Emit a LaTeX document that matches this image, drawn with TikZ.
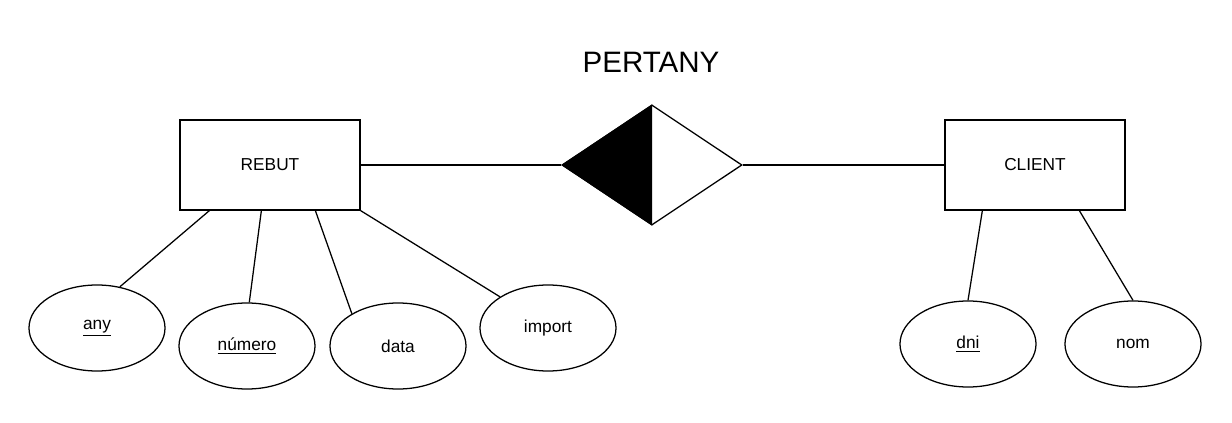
\documentclass[tikz,border=0pt]{standalone}
\usepackage{fontspec}
\setmainfont{Liberation Sans}
\usetikzlibrary{shapes.geometric, positioning}

\begin{document}
\begin{tikzpicture}[x=0.025cm, y=0.025cm, line width=0.9pt,
    entity/.style={draw, rectangle, minimum width=4.5cm, minimum height=2.25cm,
                   inner sep=0pt, font=\fontsize{12.3}{14}\selectfont},
    attrib/.style={draw, ellipse, minimum width=3.4cm, minimum height=2.15cm,
                   inner sep=0pt, font=\fontsize{12.3}{14}\selectfont},
    relation/.style={draw, diamond, minimum width=4.5cm, minimum height=3cm, inner sep=0pt}]
    \useasboundingbox (0,0) rectangle (1232,422);

    % title
    \node[font=\fontsize{21}{25}\selectfont] (title) at (651,360) {PERTANY};

    % entities and relation
    \node[entity] (rebut) at (270,257) {REBUT};
    \node[entity] (client) at (1035,257) {CLIENT};
    \node[relation] (rel) at (652,257) {};
    \fill (rel.west) -- (rel.north) -- (rel.south) -- cycle;

    \draw (rebut.east) -- (rel.west);
    \draw (rel.east) -- (client.west);

    % attributes of REBUT
    \node[attrib] (any) at (97,94) {\underline{any}};
    \node[attrib] (numero) at (247,76) {\underline{número}};
    \node[attrib] (data) at (398,76) {data};
    \node[attrib] (import) at (548,94) {import};

    \draw ([xshift=0.75cm]rebut.south west) -- (any.61);
    \draw ([xshift=2.05cm]rebut.south west) -- (numero.87);
    \draw ([xshift=3.4cm]rebut.south west) -- (data.145);
    \draw (rebut.south east) -- (import.147);

    % attributes of CLIENT
    \node[attrib] (dni) at (968,78) {\underline{dni}};
    \node[attrib] (nom) at (1133,78) {nom};

    \draw ([xshift=0.95cm]client.south west) -- (dni.north);
    \draw ([xshift=3.375cm]client.south west) -- (nom.north);
\end{tikzpicture}
\end{document}
